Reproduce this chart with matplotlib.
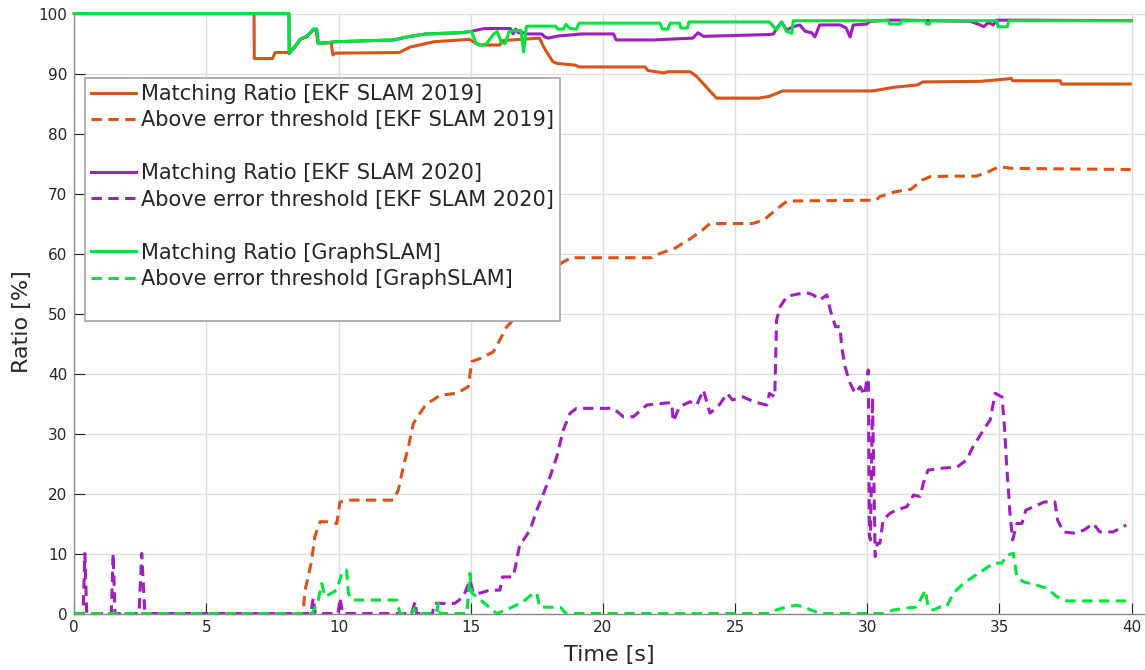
import matplotlib
matplotlib.use("Agg")
import matplotlib.pyplot as plt
from matplotlib.lines import Line2D

plt.rcParams["font.family"] = ["DejaVu Sans"]

# EKF SLAM 2019
t_ekf19_match = [0, 6.8, 6.81, 7.5, 7.6, 8.1, 8.35, 8.55, 8.8, 9.05, 9.15, 9.22, 9.72, 9.78,
                 9.85, 12.3, 12.7, 13.6, 14.95, 15.3, 16.1, 16.2, 17.6, 17.75, 17.9, 18.1,
                 18.25, 18.95, 19.1, 21.6, 21.7, 22.3, 22.45, 23.3, 23.55, 23.9, 24.3, 25.9,
                 26.3, 26.8, 30.2, 31.0, 31.9, 32.1, 34.3, 35.3, 35.45, 35.5, 37.3, 37.35, 39.95]
v_ekf19_match = [100, 100, 92.5, 92.5, 93.5, 93.5, 94.5, 95.7, 96.2, 97.3, 97.2, 95.1, 95.1, 93.1,
                 93.4, 93.5, 94.4, 95.3, 95.7, 94.75, 94.75, 95.5, 95.9, 94.5, 93.4, 92.0,
                 91.7, 91.4, 91.1, 91.1, 90.5, 90.1, 90.3, 90.3, 89.5, 87.8, 85.9, 85.9,
                 86.2, 87.1, 87.1, 87.7, 88.1, 88.6, 88.7, 89.1, 89.2, 88.8, 88.8, 88.25, 88.25]

t_ekf19_err = [0, 8.62, 8.66, 8.73, 8.85, 8.98, 9.1, 9.3, 9.55, 9.93, 10.05, 10.43, 12.07, 12.26,
               12.45, 12.64, 12.83, 13.08, 13.33, 13.58, 13.84, 14.47, 14.9, 15.04, 15.35, 15.85,
               16.1, 16.36, 16.6, 18.42, 18.79, 21.86, 22.15, 22.73, 23.32, 23.76, 24.05, 25.66,
               26.09, 26.53, 26.97, 30.33, 30.48, 31.06, 31.65, 32.08, 32.38, 33.1, 34.13, 34.57,
               35.0, 35.44, 39.97]
v_ekf19_err = [0, 0, 0.5, 3.9, 6.1, 8.9, 12.8, 15.3, 15.3, 15.0, 18.6, 18.9, 18.9, 20.6,
               24.5, 27.8, 31.7, 33.4, 35.0, 35.6, 36.4, 36.7, 37.8, 42.0, 42.5, 43.6,
               45.6, 47.8, 48.9, 58.4, 59.3, 59.3, 60.0, 60.9, 62.5, 63.9, 65.0, 65.0,
               65.6, 67.25, 68.75, 68.9, 69.5, 70.3, 70.7, 72.25, 72.8, 72.9, 72.9, 73.6,
               74.5, 74.2, 74.0]

# EKF SLAM 2020
t_ekf20_match = [0, 8.12, 8.13, 8.35, 8.55, 8.8, 9.05, 9.17, 9.23, 9.9, 12.1, 12.6, 13.3, 14.6,
                 15.0, 15.5, 16.5, 16.6, 16.7, 16.8, 17.0, 17.13, 17.68, 17.8, 17.93, 18.3,
                 19.2, 20.4, 20.5, 21.9, 23.4, 23.6, 23.8, 26.3, 26.45, 26.57, 26.76, 26.95,
                 27.2, 27.45, 27.65, 27.9, 28.02, 28.2, 28.97, 29.2, 29.35, 29.47, 29.98, 30.1,
                 30.8, 31.3, 33.9, 34.27, 34.4, 34.58, 34.77, 34.9, 35.5, 39.95]
v_ekf20_match = [100, 100, 93.3, 94.5, 95.7, 96.2, 97.4, 97.4, 95.0, 95.3, 95.6, 96.1, 96.6, 96.8,
                 97.0, 97.5, 97.5, 96.6, 97.4, 96.8, 96.8, 96.6, 96.6, 96.1, 95.9, 96.25,
                 96.6, 96.6, 95.6, 95.6, 95.9, 96.8, 96.2, 96.5, 96.6, 97.5, 98.6, 97.25,
                 97.8, 98.1, 97.05, 96.8, 96.1, 98.1, 98.1, 97.6, 96.1, 98.1, 98.25, 98.7,
                 98.9, 98.9, 98.7, 98.1, 97.8, 98.5, 98.1, 98.9, 98.9, 98.8]

t_ekf20_err = [0, 0.33, 0.4, 0.47, 1.4, 1.47, 1.54, 2.45, 2.55, 2.67, 8.95, 9.04, 9.12, 9.98,
               10.05, 10.15, 12.75, 12.9, 12.95, 13.55, 13.62, 14.4, 14.72, 14.97, 15.1, 15.35,
               15.73, 16.1, 16.2, 16.6, 16.7, 16.86, 16.99, 17.24, 17.5, 17.75, 18.0, 18.25,
               18.5, 18.76, 19.0, 20.4, 20.77, 21.15, 21.66, 22.4, 22.6, 22.66, 22.9, 23.3,
               23.55, 23.8, 24.05, 24.4, 24.7, 24.9, 25.3, 25.7, 26.2, 26.3, 26.5, 26.57,
               26.7, 26.95, 27.2, 27.7, 27.96, 28.2, 28.47, 28.6, 28.8, 28.97, 29.03, 29.16,
               29.35, 29.54, 29.73, 29.9, 30.04, 30.08, 30.12, 30.2, 30.3, 30.38, 30.48, 30.6,
               30.86, 31.1, 31.5, 31.75, 32.0, 32.12, 32.3, 32.76, 33.4, 33.76, 34.0, 34.4,
               34.65, 34.84, 35.1, 35.2, 35.27, 35.4, 35.5, 35.66, 35.85, 36.0, 36.3, 36.7,
               37.1, 37.2, 37.42, 37.8, 38.2, 38.55, 38.8, 39.3, 39.8]
v_ekf20_err = [0, 0, 10, 0, 0, 10, 0, 0, 10, 0, 0, 2.6, 0, 0,
               2.6, 0, 0, 2.0, 0, 0, 1.7, 1.7, 2.8, 5.6, 3.4, 3.4,
               3.9, 3.9, 6.1, 6.1, 8.0, 11.7, 12.25, 13.9, 17.25, 20.0, 22.8, 26.1,
               30.6, 33.4, 34.2, 34.2, 32.8, 32.8, 34.75, 35.1, 35.1, 32.0, 34.5, 35.3,
               34.75, 37.25, 33.4, 34.75, 36.7, 35.6, 36.1, 35.3, 34.75, 36.7, 36.1, 48.9,
               51.1, 52.8, 53.1, 53.5, 53.1, 52.25, 53.1, 50.6, 47.8, 47.8, 44.5, 41.1,
               38.4, 36.7, 37.8, 36.4, 40.6, 13.0, 12.25, 36.0, 9.5, 11.7, 11.7, 15.6,
               16.7, 17.25, 17.8, 19.75, 19.5, 21.7, 23.9, 24.2, 24.4, 25.6, 27.8, 30.6,
               32.25, 36.7, 36.1, 30.6, 25.0, 16.7, 12.25, 15.0, 15.0, 17.25, 17.8, 18.6,
               18.6, 15.6, 13.6, 13.4, 13.9, 15.0, 13.6, 13.6, 14.75]

# GraphSLAM
t_graph_match = [0, 8.12, 8.13, 8.35, 8.55, 8.8, 9.04, 9.17, 9.23, 9.9, 12.07, 12.57, 13.3, 14.6,
                 15.03, 15.2, 15.47, 15.6, 15.85, 16.0, 16.15, 16.3, 16.45, 16.6, 16.9, 17.0,
                 17.1, 17.2, 18.2, 18.3, 18.5, 18.6, 18.75, 19.0, 19.1, 22.16, 22.25, 22.45,
                 22.55, 22.9, 22.95, 23.2, 23.25, 26.3, 26.57, 26.76, 26.95, 27.15, 27.2, 30.8,
                 30.85, 31.25, 31.3, 32.2, 32.25, 32.35, 32.4, 34.9, 34.95, 35.3, 35.35, 40.0]
v_graph_match = [100, 100, 93.4, 94.5, 95.7, 96.25, 97.4, 97.4, 95.0, 95.3, 95.6, 96.1, 96.6, 96.8,
                 97.0, 95.0, 94.75, 95.0, 96.5, 97.0, 95.2, 95.0, 97.0, 97.1, 97.2, 93.6,
                 97.8, 97.9, 97.9, 97.4, 97.4, 98.2, 97.5, 97.4, 98.4, 98.4, 97.4, 97.4,
                 98.4, 98.4, 97.6, 97.6, 98.6, 98.6, 97.25, 98.6, 97.0, 96.7, 98.8, 98.8,
                 98.25, 98.25, 98.8, 98.8, 98.25, 98.25, 98.8, 98.8, 97.8, 97.8, 98.8, 98.8]

t_graph_err = [0, 9.0, 9.23, 9.36, 9.49, 9.93, 10.12, 10.3, 10.37, 10.49, 12.2, 12.32, 12.77,
               12.85, 12.95, 13.7, 13.77, 13.84, 14.85, 14.97, 15.04, 15.23, 15.6, 15.98, 16.49,
               16.99, 17.37, 17.5, 17.6, 18.4, 18.6, 26.3, 26.57, 26.95, 27.33, 27.7, 28.2,
               30.6, 31.0, 31.5, 31.87, 32.2, 32.3, 32.5, 32.76, 33.0, 33.26, 33.64, 34.0,
               34.4, 34.77, 35.1, 35.27, 35.53, 35.66, 35.9, 36.4, 36.8, 37.17, 37.55, 39.94]
v_graph_err = [0, 0, 2.25, 5.0, 2.8, 3.9, 6.7, 7.25, 3.4, 2.25, 2.25, 0, 0,
               0.8, 0, 0, 1.7, 0, 0, 6.7, 3.4, 2.8, 1.4, 0, 0.9,
               2.0, 3.4, 3.4, 1.1, 1.0, 0, 0, 0.6, 1.1, 1.4, 0.9, 0,
               0, 0.6, 0.9, 1.1, 3.9, 1.1, 0.6, 1.1, 1.1, 3.4, 5.0, 6.1,
               7.25, 8.4, 8.4, 9.75, 10.0, 6.1, 5.3, 4.75, 4.2, 2.8, 2.1, 2.1]

x_ticks = list(range(0, 41, 5))
y_ticks = list(range(0, 101, 10))

c_ekf19 = "#D95319"
c_ekf20 = "#A01EC0"
c_graph = "#00E43C"
lw = 2.2
dash = (3.4, 2.1)

fig = plt.figure(figsize=(11.45, 6.7), dpi=100)
ax = fig.add_axes([0.0649, 0.0843, 0.9349, 0.8955])

# lines sitting on 0 and 100 keep their full width at the axes edges
l1, = ax.plot(t_ekf19_match, v_ekf19_match, color=c_ekf19, lw=lw, clip_on=False)
l2, = ax.plot(t_ekf19_err, v_ekf19_err, color=c_ekf19, lw=lw, dashes=dash, clip_on=False)
l3, = ax.plot(t_ekf20_match, v_ekf20_match, color=c_ekf20, lw=lw, clip_on=False)
l4, = ax.plot(t_ekf20_err, v_ekf20_err, color=c_ekf20, lw=lw, dashes=dash, clip_on=False)
l5, = ax.plot(t_graph_match, v_graph_match, color=c_graph, lw=lw, clip_on=False)
l6, = ax.plot(t_graph_err, v_graph_err, color=c_graph, lw=lw, dashes=dash, clip_on=False)

ax.set_xlim(0, 40.5)
ax.set_ylim(0, 100)
ax.set_xticks(x_ticks)
ax.set_yticks(y_ticks)
ax.grid(True, color="#dedede", lw=1.0)
ax.set_axisbelow(True)
for side in ("top", "right"):
    ax.spines[side].set_visible(False)
for side in ("left", "bottom"):
    ax.spines[side].set_color("#8a8a8a")
    ax.spines[side].set_linewidth(1.0)
ax.tick_params(direction="in", length=8, width=0.8, colors="#262626",
               labelsize=11, pad=5)

ax.set_xlabel("Time [s]", fontsize=16, color="#262626")
ax.set_ylabel("Ratio [%]", fontsize=16, color="#262626")
ax.xaxis.set_label_coords(0.5, -0.052)
ax.yaxis.set_label_coords(-0.0395, 0.486)

# blank rows separate the three methods in the legend
blank = Line2D([], [], color="none")
handles = [l1, l2, blank, l3, l4, blank, l5, l6, blank]
labels = ["Matching Ratio [EKF SLAM 2019]",
          "Above error threshold [EKF SLAM 2019]",
          " ",
          "Matching Ratio [EKF SLAM 2020]",
          "Above error threshold [EKF SLAM 2020]",
          " ",
          "Matching Ratio [GraphSLAM]",
          "Above error threshold [GraphSLAM]",
          " "]
leg = ax.legend(handles, labels, loc="upper left", bbox_to_anchor=(0.01, 0.8925),
                borderaxespad=0, fontsize=15, handlelength=2.15, handletextpad=0.25,
                labelspacing=0.31, borderpad=0.28, fancybox=False, framealpha=1.0,
                edgecolor="#a6a6a6")
leg.get_frame().set_linewidth(1.2)
leg.set_zorder(5)
for txt in leg.get_texts():
    txt.set_color("#262626")

fig.savefig("out.png", dpi=100)
